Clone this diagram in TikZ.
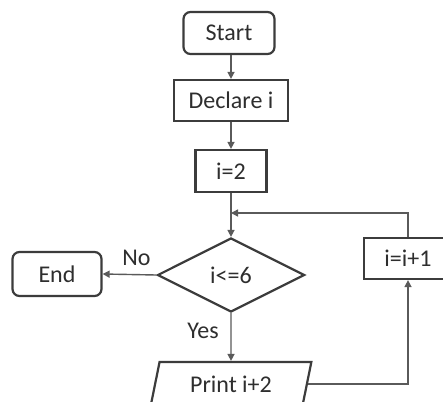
\documentclass[tikz,border=0pt]{standalone}
\usepackage{fontspec}
\setmainfont{Carlito}
\usetikzlibrary{shapes.geometric,arrows.meta}
\definecolor{edgegray}{HTML}{3C3C3C}
\definecolor{wiregray}{HTML}{5A5A5A}
\definecolor{inkgray}{HTML}{2E2E2E}
\begin{document}
\begin{tikzpicture}[x=1pt,y=-1pt,
  every node/.style={font=\fontsize{24}{28}\selectfont, text=inkgray},
  box/.style={draw=edgegray, line width=2.2pt, rectangle, inner sep=0pt},
  term/.style={box, rounded corners=7pt},
  decision/.style={draw=edgegray, line width=2.2pt, diamond, inner sep=0pt,
    minimum width=147pt, minimum height=74pt},
  io/.style={draw=edgegray, line width=2.2pt, trapezium, trapezium stretches=true,
    trapezium left angle=73, trapezium right angle=107, inner sep=0pt,
    minimum width=162pt, minimum height=44pt},
  flow/.style={draw=wiregray, line width=1.4pt, -{Triangle[length=7pt,width=7pt]}},
  lbl/.style={inner sep=0pt}]
  \clip (0,0) rectangle (443,401);
  \fill[white] (0,0) rectangle (443,401);

  % flowchart nodes
  \node[term, minimum width=91pt, minimum height=42pt] (start) at (229,33) {Start};
  \node[box, minimum width=114pt, minimum height=41pt] (declare) at (231,100.5) {Declare i};
  \node[box, minimum width=71pt, minimum height=42pt] (init) at (231,171) {i=2};
  \node[decision] (cond) at (231,275) {i<=6};
  \node[term, minimum width=89pt, minimum height=44pt] (stop) at (57,274) {End};
  \node[box, minimum width=88pt, minimum height=41pt] (inc) at (408,258.5) {i=i+1};
  \node[io] (print) at (231,384) {Print i+2};
  \coordinate (join) at (231,213);

  % connectors
  \draw[flow] (start.south -| declare.north) -- (declare.north);
  \draw[flow] (declare) -- (init);
  \draw[flow] (init) -- (cond);
  \draw[flow] (cond.west) -- (stop.east);
  \draw[flow] (cond.south) -- (print.north);
  \draw[flow] (print.east) -| (inc.south);
  \draw[flow] (inc.north) |- (join);

  % branch labels
  \node[lbl] (nolbl) at (136.5,257.5) {No};
  \node[lbl] (yeslbl) at (203,331) {Yes};
\end{tikzpicture}
\end{document}
